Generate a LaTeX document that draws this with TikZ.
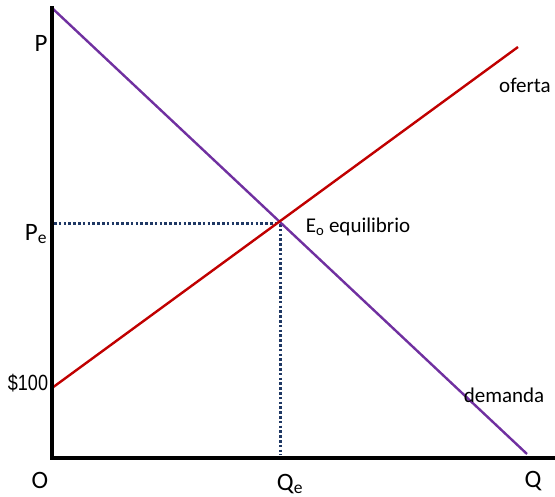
\documentclass[tikz,border=0pt]{standalone}
\usepackage{fontspec}
\setmainfont{Carlito}
\newfontfamily\arialf{Liberation Sans}
\definecolor{dempurple}{HTML}{7030A0}
\definecolor{supred}{HTML}{C00000}
\definecolor{dotblue}{HTML}{1F3864}
\begin{document}
\begin{tikzpicture}[x=1pt,y=-1pt,
  axisline/.style={line width=4pt,black},
  curve/.style={line width=2.4pt},
  guide/.style={line width=3pt,dotblue,dash pattern=on 2.6pt off 2.2pt},
  biglbl/.style={font=\fontsize{25}{28}\selectfont,inner sep=0pt},
  wordlbl/.style={font=\fontsize{21}{24}\selectfont,inner sep=0pt}]
\useasboundingbox (0,0) rectangle (555,497);
% coordinates
\coordinate (top) at (52,8);
\coordinate (orig) at (52,458);
\coordinate (right) at (555,458);
\coordinate (dend) at (527,454);
\coordinate (s0) at (52,388);
\coordinate (send) at (518,47);
\coordinate (eq) at (280.5,224);
\coordinate (peax) at (54,224);
\coordinate (qeax) at (280.5,455);
% guides
\draw[guide] (peax) -- (eq);
\draw[guide] (eq) -- (qeax);
% curves
\draw[curve,dempurple] (top) -- (dend);
\draw[curve,supred] (s0) -- (send);
% axes
\draw[axisline,line cap=rect] (top) -- (orig) -- (right);
% labels
\node[biglbl] (lP) at (41,43) {P};
\node[biglbl] (lPe) at (36,234) {P\textsubscript{e}};
\node[inner sep=0pt,font=\arialf\fontsize{22}{24}\selectfont,xscale=0.82] (l100) at (28,383) {\$100};
\node[biglbl] (lO) at (40,480) {O};
\node[biglbl] (lQe) at (290,484) {Q\textsubscript{e}};
\node[biglbl] (lQ) at (533,481) {Q};
\node[wordlbl] (lof) at (525,85) {oferta};
\node[wordlbl] (ldem) at (504,395) {demanda};
\node[wordlbl] (leq) at (358,227) {E\textsubscript{o} equilibrio};
\end{tikzpicture}
\end{document}
